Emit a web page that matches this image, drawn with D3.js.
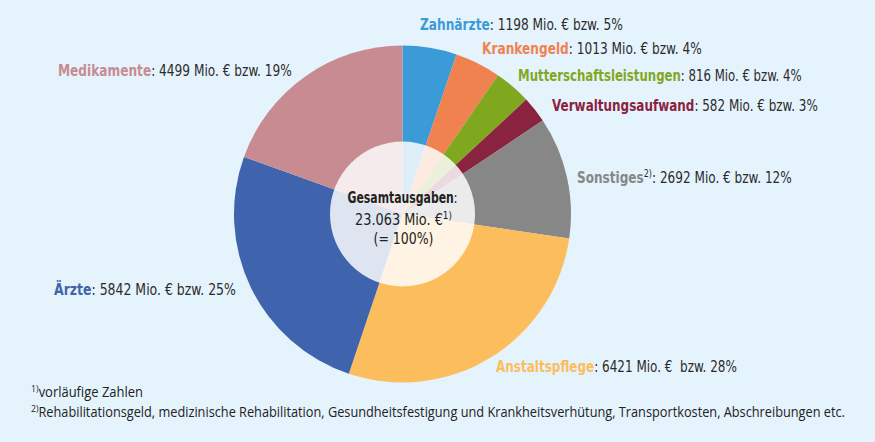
<!DOCTYPE html>
<html><head><meta charset="utf-8">
<script src="https://cdn.jsdelivr.net/npm/d3@7"></script>
<style>
html,body{margin:0;padding:0;background:#e5f3fd;}
svg{display:block;}
text{white-space:pre;}
</style></head>
<body>
<svg id="c" width="875" height="442"></svg>
<script>
// ---- data ----
const categories = ["Zahnärzte","Krankengeld","Mutterschaftsleistungen","Verwaltungsaufwand","Sonstiges","Anstaltspflege","Ärzte","Medikamente"];
const values = [1198,1013,816,582,2692,6421,5842,4499];
const percents = [5,4,4,3,12,28,25,19];
const footnoteMarks = ["","","","","2)","","",""];
const unitSep = [" ", " ", " ", " ", " ", "  ", " ", " "];
const colors = ["#3b9bd7","#f0824f","#80a81f","#8a2340","#878787","#fcbd5d","#3f63ad","#c78b91"];
const totalLabel = ["Gesamtausgaben", "23.063 Mio. €", "(= 100%)"];
const footnotes = [["1)","vorläufige Zahlen"],["2)","Rehabilitationsgeld, medizinische Rehabilitation, Gesundheitsfestigung und Krankheitsverhütung, Transportkosten, Abschreibungen etc."]];

// ---- layout ----
const W = 875, H = 442;
const cx = 402.5, cy = 214, R = 168.5, r0 = 72.5;
const labelPos = [
  {x:420, y:30, w:203},
  {x:482, y:54, w:220},
  {x:518, y:81, w:284},
  {x:552, y:111, w:266},
  {x:577, y:183, w:215},
  {x:496, y:372, w:241},
  {x:54,  y:295, w:182},
  {x:58,  y:76,  w:234}
];
const FONT = "'DejaVu Sans Condensed','Open Sans',sans-serif";
const svg = d3.select("#c");
svg.append("rect").attr("width",W).attr("height",H).attr("fill","#e5f3fd");

// fit a text horizontally to a target width (anchor: 'start' or 'middle')
function fit(textSel, x, y, targetW, anchor){
  const nat = textSel.node().getComputedTextLength();
  const sx = targetW / nat;
  textSel.attr("x",0).attr("y",0)
    .attr("transform",`translate(${x},${y}) scale(${sx},1)`);
}

const data = categories.map((c,i)=>({name:c, v:values[i], p:percents[i], color:colors[i], fn:footnoteMarks[i], sep:unitSep[i]}));
const pie = d3.pie().sort(null).value(d=>d.v).startAngle(0).endAngle(2*Math.PI);
const arc = d3.arc().innerRadius(0).outerRadius(R);
const g = svg.append("g").attr("transform",`translate(${cx},${cy})`);
g.selectAll("path").data(pie(data)).join("path")
  .attr("d",arc).attr("fill",d=>d.data.color);
g.append("circle").attr("r",r0).attr("fill","#ffffff").attr("fill-opacity",0.83);

// center text
const ct = svg.append("g").attr("font-family",FONT).attr("fill","#222").attr("text-anchor","middle");
const t1 = ct.append("text").attr("font-size",16);
t1.append("tspan").attr("font-weight","bold").text(totalLabel[0]);
t1.append("tspan").text(":");
fit(t1, cx, 203, 110);
const t2 = ct.append("text").attr("font-size",16);
t2.append("tspan").text(totalLabel[1]);
t2.append("tspan").attr("font-size",11).attr("dy",-6).text("1)");
fit(t2, cx+1, 225, 97);
const t3 = ct.append("text").attr("font-size",16).text(totalLabel[2]);
fit(t3, cx+1, 244, 60);

// labels
const lg = svg.append("g").attr("font-family",FONT).attr("font-size",16.5);
data.forEach((d,i)=>{
  const p = labelPos[i];
  const t = lg.append("text").attr("fill","#2b2b2b");
  t.append("tspan").attr("font-weight","bold").attr("fill",d.color).text(d.name);
  if(d.fn){
    t.append("tspan").attr("font-size",11).attr("dy",-6).attr("fill","#2b2b2b").text(d.fn);
    t.append("tspan").attr("dy",6).text(`: ${d.v} Mio. €${d.sep}bzw. ${d.p}%`);
  } else {
    t.append("tspan").text(`: ${d.v} Mio. €${d.sep}bzw. ${d.p}%`);
  }
  fit(t, p.x, p.y, p.w);
});

// footnotes
const fg = svg.append("g").attr("font-family","'Open Sans',sans-serif").attr("fill","#222");
const fw = [112, 815];
footnotes.forEach((f,i)=>{
  const t = fg.append("text").attr("font-size",14);
  t.append("tspan").attr("font-size",9.5).attr("dy",-5).text(f[0]);
  t.append("tspan").attr("dy",5).text(f[1]);
  fit(t, 31, 397+i*20, fw[i]);
});
</script>
</body></html>
